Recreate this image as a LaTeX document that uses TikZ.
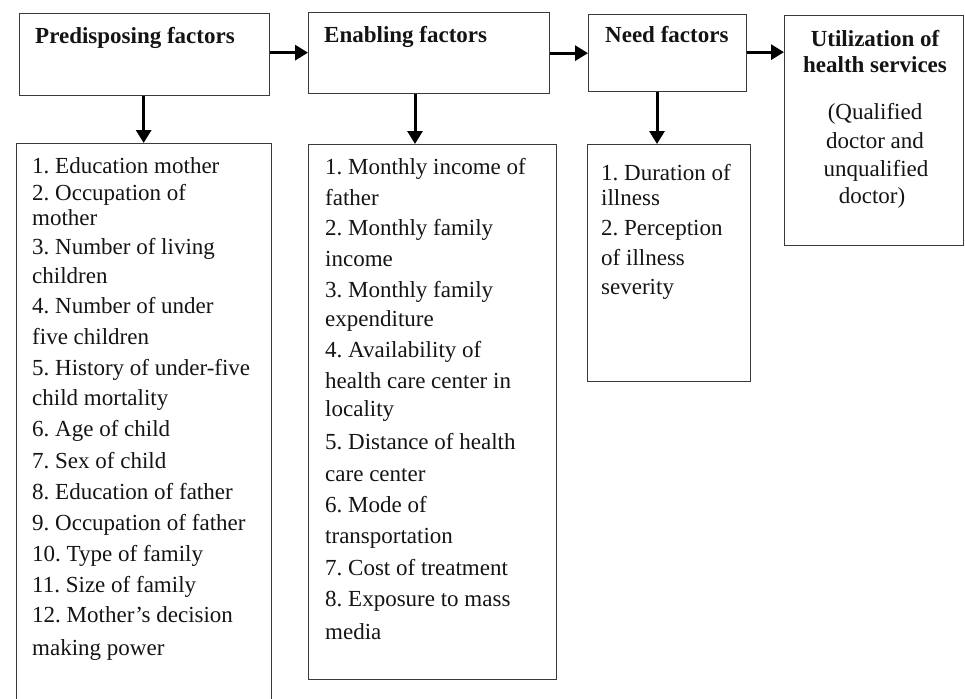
\documentclass[tikz,border=0pt]{standalone}
\usepackage{fontspec}
\setmainfont{Liberation Serif}
\usetikzlibrary{arrows.meta}
\definecolor{boxc}{HTML}{3A3A3A}
\definecolor{txtc}{HTML}{141414}
\newcommand{\fsz}{\fontsize{23}{28}\selectfont\frenchspacing}
\tikzset{
  box/.style={draw=boxc, line width=1.3pt, anchor=north west, inner sep=0pt},
  flow/.style={draw=black, line width=3pt, -{Triangle[length=13pt,width=15pt]}},
  item/.style={anchor=base west, inner sep=0pt, font=\fsz, text=txtc},
  head/.style={anchor=base west, inner sep=0pt, font=\fsz\bfseries, text=txtc},
  ctr/.style={anchor=base, inner sep=0pt, font=\fsz, text=txtc},
}
\begin{document}
\begin{tikzpicture}[x=1pt,y=-1pt]
\useasboundingbox (0,0) rectangle (965,698);
\begin{scope}
\clip (0,0) rectangle (965,698);
% header boxes
\node[box, minimum width=250pt, minimum height=82pt] (ph) at (19,13) {};
\node[box, minimum width=241pt, minimum height=81pt] (eh) at (308,12) {};
\node[box, minimum width=158pt, minimum height=77pt] (nh) at (588,14) {};
\node[box, minimum width=179pt, minimum height=230pt] (u) at (784,15) {};
% list boxes
\node[box, minimum width=255pt, minimum height=600pt] (pl) at (16,143) {};
\node[box, minimum width=248pt, minimum height=535pt] (el) at (308,144) {};
\node[box, minimum width=163pt, minimum height=237pt] (nl) at (587,144) {};
\end{scope}
% headers
\node[head] (pht) at (35,44) {Predisposing factors};
\node[head] (eht) at (324,43) {Enabling factors};
\node[head] (nht) at (605,43) {Need factors};
\node[ctr, font=\fsz\bfseries] (u1) at (875,47) {Utilization of};
\node[ctr, font=\fsz\bfseries] (u2) at (875,73) {health services};
\node[ctr] (u3) at (875,119) {(Qualified};
\node[ctr] (u4) at (875,148) {doctor and};
\node[ctr] (u5) at (876,176) {unqualified};
\node[ctr] (u6) at (872,203) {doctor)};
% arrows
\draw[flow] ([yshift=2pt]ph.east) -- ([yshift=2pt]ph.east -| eh.west);
\draw[flow] (eh.east) -- (eh.east -| nh.west);
\draw[flow] ([yshift=1pt]nh.east) -- ([yshift=1pt]nh.east -| u.west);
\draw[flow] ([xshift=-1pt]ph.south) -- ([xshift=-1pt]ph.south |- pl.north);
\draw[flow] ([xshift=107pt]eh.south west) -- ([xshift=107pt]eh.south west |- el.north);
\draw[flow] ([xshift=69pt]nh.south west) -- ([xshift=69pt]nh.south west |- nl.north);
% predisposing list
\foreach \yy/\t [count=\i] in {173/1. Education mother, 200/2. Occupation of, 225/mother,
  254/3. Number of living, 283/children, 313/4. Number of under, 344/five children,
  375/5. History of under-five, 405/child mortality, 436/6. Age of child,
  468/7. Sex of child, 499/8. Education of father, 530/9. Occupation of father,
  561/10. Type of family, 592/11. Size of family, 622/12. Mother’s decision,
  655/making power}
  \node[item] (p\i) at (32,\yy) {\t};
% enabling list
\foreach \yy/\t [count=\i] in {174/1. Monthly income of, 205/father, 235/2. Monthly family,
  266/income, 297/3. Monthly family, 326/expenditure, 357/4. Availability of,
  388/health care center in, 416/locality, 449/5. Distance of health, 481/care center,
  512/6. Mode of, 543/transportation, 575/7. Cost of treatment,
  606/8. Exposure to mass, 639/media}
  \node[item] (e\i) at (325,\yy) {\t};
% need list
\foreach \yy/\t [count=\i] in {180/1. Duration of, 205/illness, 235/2. Perception,
  265/of illness, 294/severity}
  \node[item] (n\i) at (601,\yy) {\t};
\end{tikzpicture}
\end{document}
